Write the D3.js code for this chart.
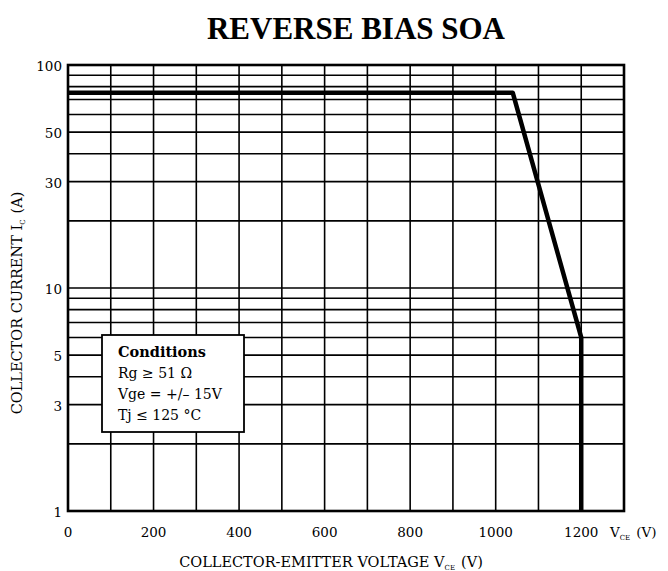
<!DOCTYPE html>
<html>
<head>
<meta charset="utf-8">
<script src="https://cdn.jsdelivr.net/npm/d3@7"></script>
<style>
  body { margin: 0; background: #fff; }
  svg { font-family: "DejaVu Serif", "Liberation Serif", serif; }
</style>
</head>
<body>
<svg id="chart" width="668" height="571"></svg>
<script>
// axis ticks
var xTicks = [0, 200, 400, 600, 800, 1000, 1200];
var yTicks = [1, 3, 5, 10, 30, 50, 100];
// SOA boundary
var vce = [0, 1040, 1200, 1200];
var ic = [75, 75, 6, 1];
var conditions = ["Rg \u2265 51 \u03a9", "Vge = +/\u2013 15V", "Tj \u2264 125 \u00b0C"];

var svg = d3.select("#chart");
var mLeft = 68, mRight = 624, mTop = 65, mBottom = 511;

var x = d3.scaleLinear().domain([0, 1300]).range([mLeft, mRight]);
var y = d3.scaleLog().domain([1, 100]).range([mBottom, mTop]);

// minor grid: every 100 V, 2..9 per decade
var xGrid = d3.range(100, 1300, 100);
var yGrid = [];
[1, 10].forEach(function(d) {
  for (var k = 2; k <= 10; k++) yGrid.push(d * k);
});
yGrid = yGrid.filter(function(v) { return v < 100; });

var grid = svg.append("g").attr("stroke", "#000").attr("stroke-width", 1.6);
grid.selectAll(".vx").data(xGrid).enter().append("line")
  .attr("x1", d => x(d)).attr("x2", d => x(d))
  .attr("y1", mTop).attr("y2", mBottom);
grid.selectAll(".hy").data(yGrid).enter().append("line")
  .attr("x1", mLeft).attr("x2", mRight)
  .attr("y1", d => y(d)).attr("y2", d => y(d));

// frame
svg.append("rect")
  .attr("x", mLeft).attr("y", mTop)
  .attr("width", mRight - mLeft).attr("height", mBottom - mTop)
  .attr("fill", "none").attr("stroke", "#000").attr("stroke-width", 2.6);

// SOA curve
var line = d3.line().x(d => x(d[0])).y(d => y(d[1]));
svg.append("path")
  .datum(vce.map((v, i) => [v, ic[i]]))
  .attr("d", line)
  .attr("fill", "none").attr("stroke", "#000")
  .attr("stroke-width", 4.5).attr("stroke-linejoin", "round");

// tick labels
svg.append("g").selectAll("text").data(xTicks).enter().append("text")
  .attr("x", d => x(d)).attr("y", 537)
  .attr("text-anchor", "middle").attr("font-size", 13.5)
  .text(d => d);
svg.append("g").selectAll("text").data(yTicks).enter().append("text")
  .attr("x", 62).attr("y", d => y(d) + 6)
  .attr("text-anchor", "end").attr("font-size", 13.5)
  .text(d => d);

// axis unit at right end
var vu = svg.append("text").attr("x", 610).attr("y", 537).attr("font-size", 13.5);
vu.append("tspan").text("V");
vu.append("tspan").attr("font-size", 7).attr("dy", 3).text("CE");
vu.append("tspan").attr("dy", -3).attr("dx", 6).text("(V)");

// axis titles
var xt = svg.append("text").attr("x", 331).attr("y", 567)
  .attr("text-anchor", "middle").attr("font-size", 14.5);
xt.append("tspan").text("COLLECTOR-EMITTER VOLTAGE V");
xt.append("tspan").attr("font-size", 7).attr("dy", 3).text("CE");
xt.append("tspan").attr("dy", -3).attr("dx", 6).text("(V)");

var yt = svg.append("text")
  .attr("transform", "translate(22,303) rotate(-90)")
  .attr("text-anchor", "middle").attr("font-size", 14.5);
yt.append("tspan").text("COLLECTOR CURRENT  I");
yt.append("tspan").attr("font-size", 7).attr("dy", 3).text("C");
yt.append("tspan").attr("dy", -3).attr("dx", 6).text("(A)");

// title
svg.append("text")
  .attr("x", 356).attr("y", 39)
  .attr("text-anchor", "middle")
  .attr("font-family", "Liberation Serif, serif")
  .attr("font-size", 31).attr("font-weight", "bold")
  .text("REVERSE BIAS SOA");

// conditions box
var box = svg.append("g");
box.append("rect")
  .attr("x", 102).attr("y", 335).attr("width", 142).attr("height", 97)
  .attr("fill", "#fff").attr("stroke", "#000").attr("stroke-width", 1.8);
box.append("text").attr("x", 118).attr("y", 357)
  .attr("font-size", 14.5).attr("font-weight", "bold").text("Conditions");
box.selectAll(".cond").data(conditions).enter().append("text")
  .attr("x", 118).attr("y", (d, i) => 378 + i * 21)
  .attr("font-size", 14).text(d => d);
</script>
</body>
</html>
